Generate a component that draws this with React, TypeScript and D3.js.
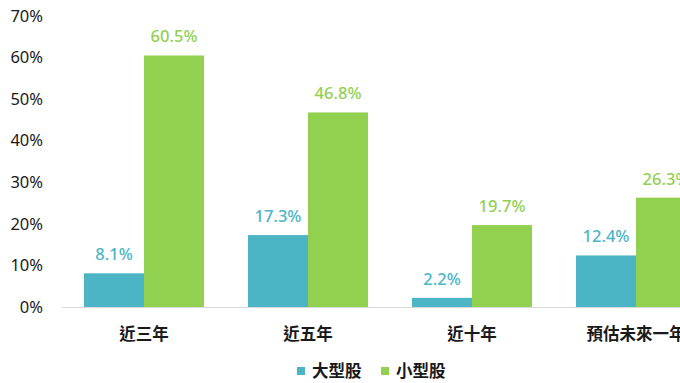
import React from "react";
import * as d3 from "d3";

const categories = ["近三年", "近五年", "近十年", "預估未來一年"];
const seriesNames = ["大型股", "小型股"];
const largeCap = [8.1, 17.3, 2.2, 12.4];
const smallCap = [60.5, 46.8, 19.7, 26.3];
const yTicks = [0, 10, 20, 30, 40, 50, 60, 70];
const colors = ["#4BB5C6", "#92D050"];

const W = 680;
const H = 383;
const left = 62;
const catW = 164;
const top = 16;
const bottom = 307;

export default function App() {
  const x = d3
    .scaleBand<string>()
    .domain(categories)
    .range([left, left + catW * categories.length])
    .paddingInner(0.268)
    .paddingOuter(0.134);
  const inner = d3.scaleBand<string>().domain(seriesNames).range([0, x.bandwidth()]);
  const y = d3.scaleLinear().domain([0, 70]).range([bottom, top]);
  const series = [largeCap, smallCap];
  const font = "'Noto Sans', 'Noto Sans CJK TC', sans-serif";

  return (
    <svg width={W} height={H} style={{ position: "absolute", left: 0, top: 0, fontFamily: font }}>
      <rect width={W} height={H} fill="#fff" />
      {yTicks.map((t) => (
        <text key={t} x={43} y={y(t)} dy="0.35em" textAnchor="end" fontSize={16.5} fill="#1a1a1a">
          {t}%
        </text>
      ))}
      <line x1={left} x2={W} y1={bottom + 0.5} y2={bottom + 0.5} stroke="#d9d9d9" />
      {categories.map((c, i) => (
        <g key={c}>
          {series.map((s, k) => {
            const bx = (x(c) as number) + (inner(seriesNames[k]) as number);
            const bw = inner.bandwidth();
            return (
              <g key={k}>
                <rect x={bx} y={y(s[i])} width={bw} height={bottom - y(s[i])} fill={colors[k]} />
                <text
                  x={bx + bw / 2}
                  y={y(s[i]) - 13}
                  textAnchor="middle"
                  fontSize={16.5}
                  fontWeight={500}
                  fill={colors[k]}
                >
                  {s[i].toFixed(1)}%
                </text>
              </g>
            );
          })}
          <text
            x={(x(c) as number) + x.bandwidth() / 2}
            y={334}
            dy="0.35em"
            textAnchor="middle"
            fontSize={16.5}
            fontWeight={700}
            fill="#1a1a1a"
          >
            {c}
          </text>
        </g>
      ))}
      {seriesNames.map((n, k) => {
        const lx = k === 0 ? 297 : 381;
        return (
          <g key={n}>
            <rect x={lx} y={367} width={8} height={8} fill={colors[k]} />
            <text x={lx + 15} y={371} dy="0.35em" fontSize={16.5} fontWeight={700} fill="#1a1a1a">
              {n}
            </text>
          </g>
        );
      })}
    </svg>
  );
}
